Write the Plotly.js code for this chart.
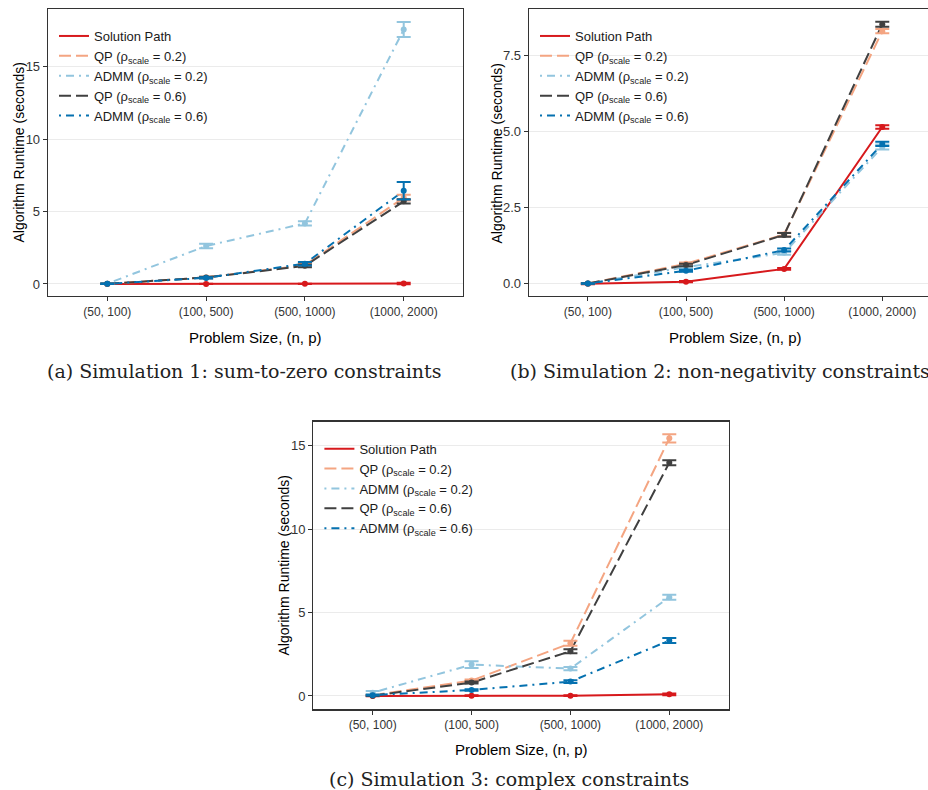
<!DOCTYPE html>
<html>
<head>
<meta charset="utf-8">
<script src="https://cdn.plot.ly/plotly-3.0.1.min.js"></script>
<style>html,body{margin:0;padding:0;background:#fff;}#chart{width:928px;height:790px;}</style>
</head>
<body>
<div id="chart"></div>
<script>
// ---------- data ----------
const sizes = ['(50, 100)', '(100, 500)', '(500, 1000)', '(1000, 2000)'];
const methodNames = ['Solution Path', 'QP (ρ<sub>scale</sub> = 0.2)', 'ADMM (ρ<sub>scale</sub> = 0.2)', 'QP (ρ<sub>scale</sub> = 0.6)', 'ADMM (ρ<sub>scale</sub> = 0.6)'];
const methodColors = ['#d7191c', '#f4a582', '#92c5de', '#404040', '#0571b0'];
const methodDash = ['solid', '12px,5px', '2px,5px,8px,5px', '12px,5px', '2px,5px,8px,5px'];

// Simulation 1: sum-to-zero constraints
const sim1_path   = [0.00, 0.00, 0.01, 0.03];
const sim1_qp02   = [0.01, 0.45, 1.30, 5.95];
const sim1_admm02 = [0.02, 2.62, 4.18, 17.55];
const sim1_qp06   = [0.01, 0.45, 1.25, 5.70];
const sim1_admm06 = [0.01, 0.42, 1.40, 6.43];
const sim1_path_err   = [0.00, 0.01, 0.01, 0.05];
const sim1_qp02_err   = [0.02, 0.05, 0.10, 0.20];
const sim1_admm02_err = [0.02, 0.15, 0.15, 0.52];
const sim1_qp06_err   = [0.02, 0.05, 0.10, 0.15];
const sim1_admm06_err = [0.02, 0.05, 0.12, 0.60];

// Simulation 2: non-negativity constraints
const sim2_path   = [0.00, 0.07, 0.49, 5.16];
const sim2_qp02   = [0.01, 0.66, 1.62, 8.31];
const sim2_admm02 = [0.01, 0.55, 1.02, 4.50];
const sim2_qp06   = [0.01, 0.62, 1.61, 8.54];
const sim2_admm06 = [0.01, 0.43, 1.11, 4.60];
const sim2_path_err   = [0.01, 0.02, 0.03, 0.06];
const sim2_qp02_err   = [0.01, 0.04, 0.06, 0.07];
const sim2_admm02_err = [0.01, 0.04, 0.06, 0.08];
const sim2_qp06_err   = [0.01, 0.04, 0.06, 0.08];
const sim2_admm06_err = [0.01, 0.03, 0.05, 0.07];

// Simulation 3: complex constraints
const sim3_path   = [0.00, 0.02, 0.02, 0.10];
const sim3_qp02   = [0.05, 0.92, 3.16, 15.45];
const sim3_admm02 = [0.20, 1.88, 1.64, 5.92];
const sim3_qp06   = [0.02, 0.80, 2.68, 13.99];
const sim3_admm06 = [0.05, 0.36, 0.86, 3.32];
const sim3_path_err   = [0.01, 0.02, 0.02, 0.05];
const sim3_qp02_err   = [0.03, 0.06, 0.15, 0.25];
const sim3_admm02_err = [0.10, 0.20, 0.10, 0.15];
const sim3_qp06_err   = [0.02, 0.06, 0.12, 0.15];
const sim3_admm06_err = [0.02, 0.04, 0.08, 0.15];

const captions = ['(a) Simulation 1: sum-to-zero constraints', '(b) Simulation 2: non-negativity constraints', '(c) Simulation 3: complex constraints'];
const xTitle = 'Problem Size, (n, p)';
const yTitle = 'Algorithm Runtime (seconds)';

// ---------- layout helpers ----------
const W = 928, H = 790;
const px = v => v / W;
const py = v => 1 - v / H;
const SANS = 'Liberation Sans, Arial, sans-serif';
const SERIF = 'DejaVu Serif, Liberation Serif, serif';

const panels = [
  {sfx: '', leg: 'legend', series: [sim1_path, sim1_qp02, sim1_admm02, sim1_qp06, sim1_admm06],
   errs: [sim1_path_err, sim1_qp02_err, sim1_admm02_err, sim1_qp06_err, sim1_admm06_err],
   xd: [48, 463], yd: [9, 296], yr: [-0.83, 18.97], xr: [-0.6, 3.6], dtick: 5, fmt: '',
   mirrorY: true},
  {sfx: '2', leg: 'legend2', series: [sim2_path, sim2_qp02, sim2_admm02, sim2_qp06, sim2_admm06],
   errs: [sim2_path_err, sim2_qp02_err, sim2_admm02_err, sim2_qp06_err, sim2_admm06_err],
   xd: [529, 928], yd: [9, 296], yr: [-0.40, 9.04], xr: [-0.6, 3.466], dtick: 2.5, fmt: '.1f',
   mirrorY: false},
  {sfx: '3', leg: 'legend3', series: [sim3_path, sim3_qp02, sim3_admm02, sim3_qp06, sim3_admm06],
   errs: [sim3_path_err, sim3_qp02_err, sim3_admm02_err, sim3_qp06_err, sim3_admm06_err],
   xd: [313.4, 728.6], yd: [421.7, 709.3], yr: [-0.8, 16.45], xr: [-0.6, 3.6], dtick: 5, fmt: '',
   mirrorY: true}
];

const traces = [];
const layout = {
  width: W, height: H, autosize: false,
  margin: {l: 0, r: 0, t: 0, b: 0},
  paper_bgcolor: '#ffffff', plot_bgcolor: '#ffffff',
  font: {family: SANS, size: 12, color: '#1a1a1a'},
  showlegend: true,
  annotations: []
};

panels.forEach((p, pi) => {
  const xa = 'x' + p.sfx, ya = 'y' + p.sfx;
  p.series.forEach((vals, mi) => {
    traces.push({
      type: 'scatter', mode: 'lines', x: sizes, y: vals,
      xaxis: xa, yaxis: ya, name: methodNames[mi], legend: p.leg,
      line: {color: methodColors[mi], width: 2, dash: methodDash[mi]},
      hoverinfo: 'skip'
    });
  });
  p.series.forEach((vals, mi) => {
    traces.push({
      type: 'scatter', mode: 'markers', x: sizes, y: vals,
      xaxis: xa, yaxis: ya, showlegend: false, legend: p.leg,
      marker: {color: methodColors[mi], size: 6},
      error_y: {type: 'data', array: p.errs[mi], visible: true, color: methodColors[mi], thickness: 2, width: 7},
      hoverinfo: 'skip'
    });
  });
  layout['xaxis' + p.sfx] = {
    type: 'category', domain: [px(p.xd[0]), px(p.xd[1])], range: p.xr, anchor: ya,
    showgrid: false, zeroline: false, showline: true, mirror: true, linecolor: '#333333', linewidth: 1.3,
    ticks: 'outside', ticklen: 4, tickcolor: '#333333', tickwidth: 1,
    tickfont: {family: SANS, size: 12, color: '#333333'}, automargin: false, fixedrange: true
  };
  layout['yaxis' + p.sfx] = {
    domain: [py(p.yd[1]), py(p.yd[0])], range: p.yr, anchor: xa,
    dtick: p.dtick, tick0: 0, tickformat: p.fmt,
    showgrid: true, gridcolor: '#ebebeb', gridwidth: 1, zeroline: false,
    showline: true, mirror: p.mirrorY, linecolor: '#333333', linewidth: 1.3,
    ticks: 'outside', ticklen: 4, tickcolor: '#333333', tickwidth: 1,
    tickfont: {family: SANS, size: 13, color: '#333333'}, automargin: false, fixedrange: true
  };
  layout[p.leg] = {
    x: px(p.xd[0] + 6), y: py(p.yd[0] + 12), xanchor: 'left', yanchor: 'top',
    xref: 'paper', yref: 'paper',
    bgcolor: 'rgba(255,255,255,0)', borderwidth: 0,
    font: {family: SANS, size: 13, color: '#1a1a1a'},
    tracegroupgap: 0, itemwidth: 30
  };
});

// axis titles & captions
const xTitlePos = [[255.5, 337], [735, 337], [521, 749]];
const yTitlePos = [[18, 152.5], [496, 152.5], [283, 565.5]];
const capPos = [[45, 371], [508, 371], [327, 779]];
for (let i = 0; i < 3; i++) {
  layout.annotations.push({
    text: xTitle, xref: 'paper', yref: 'paper', x: px(xTitlePos[i][0]), y: py(xTitlePos[i][1]),
    xanchor: 'center', yanchor: 'middle', showarrow: false,
    font: {family: SANS, size: 15, color: '#000000'}
  });
  layout.annotations.push({
    text: yTitle, xref: 'paper', yref: 'paper', x: px(yTitlePos[i][0]), y: py(yTitlePos[i][1]),
    xanchor: 'center', yanchor: 'middle', showarrow: false, textangle: -90,
    font: {family: SANS, size: 14, color: '#000000'}
  });
  layout.annotations.push({
    text: captions[i], xref: 'paper', yref: 'paper', x: px(capPos[i][0]), y: py(capPos[i][1]),
    xanchor: 'left', yanchor: 'middle', showarrow: false,
    font: {family: SERIF, size: 19, color: '#222222'}
  });
}

Plotly.newPlot('chart', traces, layout, {displayModeBar: false, staticPlot: true});
</script>
</body>
</html>
